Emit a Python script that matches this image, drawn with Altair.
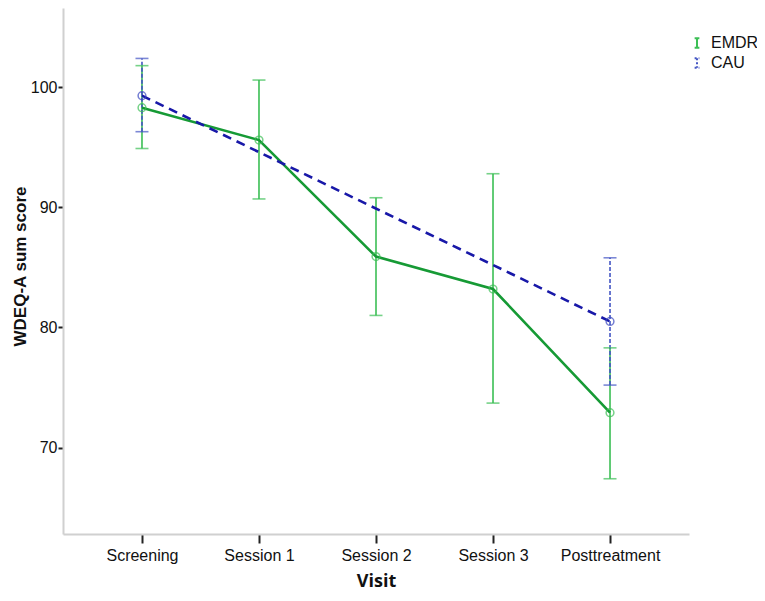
import altair as alt
import pandas as pd

visits = ["Screening", "Session 1", "Session 2", "Session 3", "Posttreatment"]

emdr_mean = [98.3, 95.6, 85.9, 83.2, 72.9]
emdr_lo = [94.9, 90.7, 81.0, 73.7, 67.4]
emdr_hi = [101.8, 100.6, 90.8, 92.8, 78.3]

cau_visits = ["Screening", "Posttreatment"]
cau_mean = [99.3, 80.5]
cau_lo = [96.3, 75.2]
cau_hi = [102.4, 85.8]

groups = ["EMDR", "CAU"]

rows = []
for v, m, lo, hi in zip(visits, emdr_mean, emdr_lo, emdr_hi):
    rows.append({"group": "EMDR", "visit": v, "mean": m, "lo": lo, "hi": hi})
for v, m, lo, hi in zip(cau_visits, cau_mean, cau_lo, cau_hi):
    rows.append({"group": "CAU", "visit": v, "mean": m, "lo": lo, "hi": hi})
df = pd.DataFrame(rows)

emdr = df[df.group == "EMDR"]
cau = df[df.group == "CAU"]

x = alt.X("visit:N", sort=visits,
          scale=alt.Scale(type="point", domain=visits, padding=0.675),
          axis=alt.Axis(title="Visit", labelAngle=0, domainColor="#d0d0d0", domainWidth=2,
                        tickColor="#222", tickWidth=2, tickSize=9, tickOffset=0,
                        labelFont="Liberation Sans", labelFontSize=16, labelColor="#111",
                        labelPadding=4, titleFont="Open Sans", titleFontSize=18,
                        titleFontWeight="bold", titleColor="#111", titlePadding=9))
yscale = alt.Scale(domain=[62.8, 106.6], nice=False, zero=False)
y = alt.Y("mean:Q", scale=yscale,
          axis=alt.Axis(title="WDEQ-A sum score", values=[70, 80, 90, 100], grid=False,
                        domainColor="#d0d0d0", domainWidth=2, tickColor="#222",
                        tickWidth=2, tickSize=5, labelFont="Liberation Sans",
                        labelFontSize=16, labelColor="#111", labelPadding=1,
                        titleFont="Liberation Sans", titleFontSize=17, titleFontWeight="bold",
                        titleColor="#111", titleX=-43, titleY=258, titleAngle=270,
                        titleBaseline="middle", titleAlign="center"))

color_scale = alt.Scale(domain=groups, range=["#3cbf55", "#4456c4"])
dash_scale = alt.Scale(domain=groups, range=[[1, 0], [2, 2]])

ibeam = "M0,-1L0,1M-0.5,-1L0.5,-1M-0.5,1L0.5,1"

emdr_bar = alt.Chart(emdr).mark_rule(strokeWidth=1.6).encode(
    x=x, y=alt.Y("lo:Q", scale=yscale), y2="hi:Q",
    color=alt.Color("group:N", scale=color_scale,
                    legend=alt.Legend(title=None, orient="none", legendX=626, legendY=27,
                                      symbolType=ibeam, symbolSize=90, symbolStrokeWidth=2,
                                      labelFont="Liberation Sans", labelFontSize=16,
                                      labelColor="#111", rowPadding=2, labelOffset=6)),
    strokeDash=alt.StrokeDash("group:N", scale=dash_scale, legend=None),
)
cau_bar = alt.Chart(cau).mark_rule(strokeWidth=1.6, strokeDash=[4, 2]).encode(
    x=x, y=alt.Y("lo:Q", scale=yscale), y2="hi:Q",
    color=alt.Color("group:N", scale=color_scale),
)
emdr_cap_lo = alt.Chart(emdr).mark_tick(color="#3cbf55", thickness=1.6, size=13).encode(
    x=x, y=alt.Y("lo:Q", scale=yscale))
emdr_cap_hi = alt.Chart(emdr).mark_tick(color="#3cbf55", thickness=1.6, size=13).encode(
    x=x, y=alt.Y("hi:Q", scale=yscale))
cau_cap_lo = alt.Chart(cau).mark_tick(color="#4456c4", thickness=1.6, size=13,
                                      strokeDash=[3, 3]).encode(
    x=x, y=alt.Y("lo:Q", scale=yscale))
cau_cap_hi = alt.Chart(cau).mark_tick(color="#4456c4", thickness=1.6, size=13,
                                      strokeDash=[3, 3]).encode(
    x=x, y=alt.Y("hi:Q", scale=yscale))

emdr_line = alt.Chart(emdr).mark_line(color="#169a35", strokeWidth=2.6).encode(x=x, y=y)
cau_line = alt.Chart(cau).mark_line(color="#1818a8", strokeWidth=2.6,
                                    strokeDash=[9, 6]).encode(x=x, y=y)
emdr_pt = alt.Chart(emdr).mark_point(shape="circle", filled=False, color="#3cbf55",
                                     size=60, strokeWidth=1.5).encode(x=x, y=y)
cau_pt = alt.Chart(cau).mark_point(shape="circle", filled=False, color="#3a48c0",
                                   size=60, strokeWidth=1.5).encode(x=x, y=y)

chart = alt.layer(
    emdr_bar, cau_bar, emdr_cap_lo, emdr_cap_hi, cau_cap_lo, cau_cap_hi,
    emdr_line, cau_line, emdr_pt, cau_pt
).properties(
    width=626, height=526,
    autosize=alt.AutoSizeParams(type="none"),
    padding={"left": 55, "top": 0, "right": 68, "bottom": 60},
    background="white",
).configure_view(strokeWidth=0, stroke=None)

chart.save("out.html", embed_options={"renderer": "svg", "actions": False})
